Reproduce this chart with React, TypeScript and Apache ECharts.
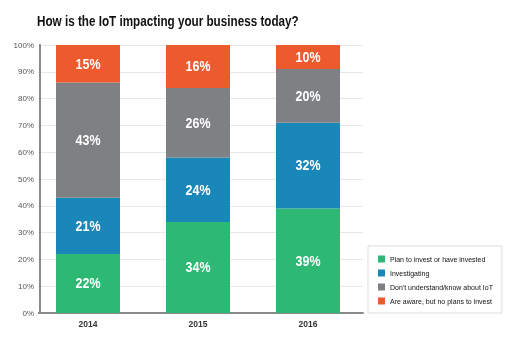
import React, { useEffect, useRef } from 'react';
import * as echarts from 'echarts';

const years = ['2014', '2015', '2016'];
const planToInvest = [22, 34, 39];
const investigating = [21, 24, 32];
const dontUnderstand = [43, 26, 20];
const awareNoPlans = [15, 16, 10];
const seriesNames = [
  'Plan to invest or have invested',
  'Investigating',
  "Don't understand/know about IoT",
  'Are aware, but no plans to invest',
];
const titleText = 'How is the IoT impacting your business today?';
const colors = ['#2db874', '#1a87b9', '#7f8083', '#ec5a2e'];

const SANS = '"Liberation Sans", Arial, sans-serif';

export default function App() {
  const ref = useRef<HTMLDivElement>(null);
  useEffect(() => {
    const chart = echarts.init(ref.current!, null, { renderer: 'svg' });
    const values = [planToInvest, investigating, dontUnderstand, awareNoPlans];
    const labelData: number[][] = [];
    years.forEach((_, xi) => {
      let base = 0;
      values.forEach((arr) => {
        const top = Math.min(base + arr[xi], 100);
        labelData.push([xi, (base + top) / 2, arr[xi]]);
        base += arr[xi];
      });
    });
    chart.setOption({
      animation: false,
      graphic: [
        {
          type: 'text',
          x: 37,
          y: 21,
          scaleX: 0.78,
          style: {
            text: titleText,
            fontFamily: SANS,
            fontWeight: 'bold',
            fontSize: 15,
            fill: '#111',
            verticalAlign: 'middle',
            align: 'left',
          },
        },
      ],
      legend: {
        orient: 'vertical',
        left: 368,
        top: 246,
        itemWidth: 7,
        itemHeight: 7,
        itemGap: 6,
        padding: [9, 9, 8, 10],
        borderColor: '#dddddd',
        borderWidth: 1,
        icon: 'rect',
        data: seriesNames,
        textStyle: { fontFamily: SANS, fontSize: 7, lineHeight: 8, color: '#111' },
      },
      grid: { left: 33, right: 157, top: 45, bottom: 27 },
      xAxis: {
        type: 'category',
        data: years,
        axisLine: { lineStyle: { color: '#8a8a8a', width: 2 } },
        axisTick: { show: false },
        axisLabel: { fontFamily: SANS, fontWeight: 'bold', fontSize: 8.5, color: '#333', margin: 6 },
      },
      yAxis: {
        type: 'value',
        min: 0,
        max: 100,
        interval: 10,
        offset: -7,
        axisLine: { show: true, lineStyle: { color: '#8a8a8a', width: 2 } },
        axisTick: { show: false },
        splitLine: { lineStyle: { color: '#e8e8e8', width: 1 } },
        axisLabel: {
          formatter: '{value}%',
          fontFamily: SANS,
          fontSize: 8,
          color: '#555',
          margin: 2,
          backgroundColor: '#fff',
          padding: [1, 4, 1, 0],
        },
      },
      series: [
        ...values.map((d, i) => ({
          name: seriesNames[i],
          type: 'bar',
          stack: 'total',
          data: d,
          barWidth: 64,
          itemStyle: { color: colors[i] },
        })),
        {
          type: 'custom',
          name: 'labels',
          silent: true,
          z: 10,
          data: labelData,
          encode: { x: 0, y: 1 },
          renderItem: (params: any, api: any) => {
            const p = api.coord([api.value(0), api.value(1)]);
            return {
              type: 'text',
              x: p[0],
              y: p[1],
              scaleX: 0.83,
              style: {
                text: api.value(2) + '%',
                fill: '#fff',
                fontFamily: SANS,
                fontWeight: 'bold',
                fontSize: 15,
                align: 'center',
                verticalAlign: 'middle',
              },
            };
          },
        },
      ],
    });
    return () => chart.dispose();
  }, []);
  return <div ref={ref} style={{ position: 'fixed', left: 0, top: 0, width: 520, height: 340 }} />;
}
